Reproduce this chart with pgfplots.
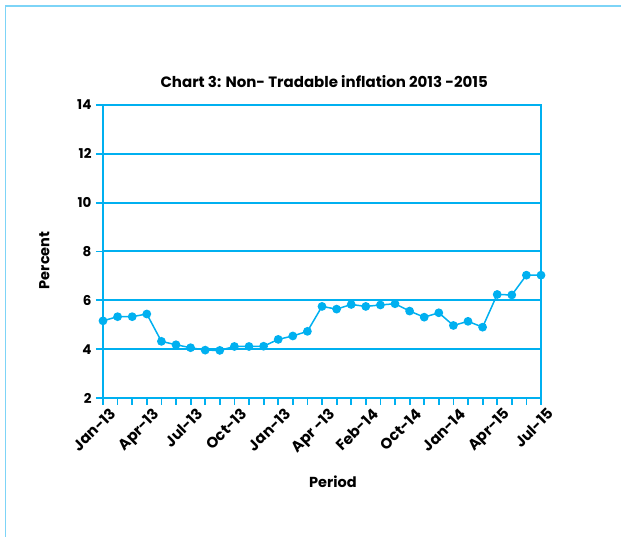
\documentclass[border=0pt]{standalone}
\usepackage{pgfplots}
\pgfplotsset{compat=1.18}
\usepackage{fontspec}
\setmainfont{Poppins}
\definecolor{cblue}{RGB}{0,176,240}
\definecolor{fblue}{RGB}{125,212,247}

\pgfplotstableread{
idx val
0 5.16
1 5.33
2 5.33
3 5.44
4 4.32
5 4.18
6 4.06
7 3.96
8 3.95
9 4.11
10 4.11
11 4.12
12 4.40
13 4.54
14 4.73
15 5.75
16 5.64
17 5.83
18 5.75
19 5.81
20 5.86
21 5.56
22 5.31
23 5.49
24 4.97
25 5.14
26 4.90
27 6.24
28 6.22
29 7.03
30 7.03
}\datatable

\begin{document}
\begin{tikzpicture}
\useasboundingbox (0pt,0pt) rectangle (621pt,537pt);
\draw[fblue, line width=1.2pt] (5.5pt,0pt) -- (5.5pt,531pt) -- (621pt,531pt);
\begin{axis}[
  at={(103pt,139pt)}, anchor=south west,
  scale only axis, width=438pt, height=293pt,
  xmin=0, xmax=30, ymin=2, ymax=14,
  axis line style={cblue, line width=2.2pt},
  ytick={2,4,...,14},
  ymajorgrids, grid style={cblue, line width=2pt},
  xtick={0,3,...,30},
  minor xtick={0,...,30},
  xticklabels={Jan-13,Apr-13,Jul-13,Oct-13,Jan-13,Apr -13,Feb-14,Oct-14,Jan-14,Apr-15,Jul-15},
  tick align=outside,
  xtick pos=bottom, ytick pos=left,
  major tick length=7pt, minor tick length=7pt,
  tick style={cblue, line width=1.8pt},
  /pgf/number format/assume math mode=true,
  xticklabel style={rotate=45, anchor=north east, xshift=6pt, yshift=-2pt, font=\bfseries\fontsize{15}{15}\selectfont},
  yticklabel style={xshift=-1pt, font=\bfseries\fontsize{13.5}{14}\selectfont},
  ticklabel style={text=black},
  title={Chart 3: Non- Tradable inflation 2013 -2015},
  title style={font=\bfseries\fontsize{15}{15}\selectfont, at={(axis description cs:0.505,1.058)}, anchor=center},
  ylabel={Percent},
  ylabel style={font=\bfseries\fontsize{14.5}{15}\selectfont, at={(axis description cs:-0.134,0.47)}, anchor=center, rotate=0},
  xlabel={Period},
  xlabel style={font=\bfseries\fontsize{14.5}{15}\selectfont, at={(axis description cs:0.525,-0.287)}, anchor=center},
]
\addplot[cblue, line width=1.5pt, mark=*, mark size=3.6pt, mark options={fill=cblue, draw=cblue}] table[x=idx, y=val] {\datatable};
\end{axis}
\end{tikzpicture}
\end{document}
